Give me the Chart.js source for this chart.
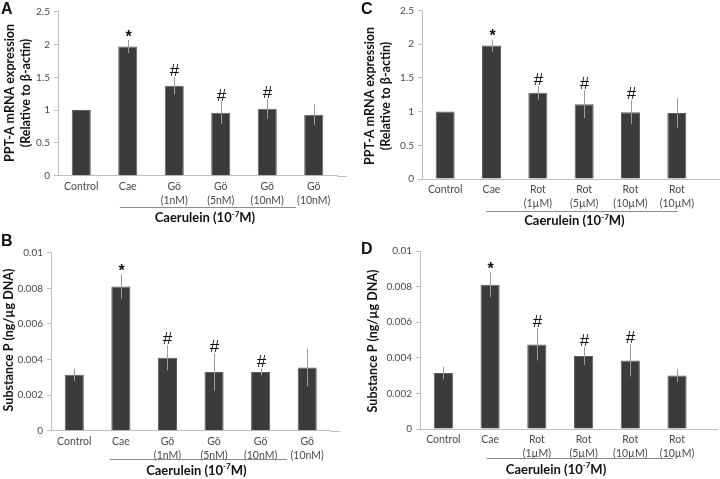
<!DOCTYPE html>
<html>
<head>
<meta charset="utf-8">
<script src="https://cdn.jsdelivr.net/npm/chart.js@4.4.1/dist/chart.umd.min.js"></script>
<style>
	body { margin: 0; background: #fff; width: 720px; height: 479px; overflow: hidden; position: relative; }
	canvas { position: absolute; }
	.letter { position: absolute; font: bold 16px 'Liberation Sans', Arial, sans-serif; color: #111; line-height: 1; }
</style>
</head>
<body>
<canvas id="chartA" width="360" height="240" style="left:0;top:0"></canvas>
<canvas id="chartC" width="360" height="240" style="left:360px;top:0"></canvas>
<canvas id="chartB" width="360" height="239" style="left:0;top:240px"></canvas>
<canvas id="chartD" width="360" height="239" style="left:360px;top:240px"></canvas>
<div class="letter" style="left:1px;top:1px">A</div>
<div class="letter" style="left:361px;top:1px">C</div>
<div class="letter" style="left:1px;top:233px">B</div>
<div class="letter" style="left:361px;top:241px">D</div>
<script>
	'use strict';

	// Category labels
	const labelsGo = ['Control', 'Cae', ['Gö', '(1nM)'], ['Gö', '(5nM)'], ['Gö', '(10nM)'], ['Gö', '(10nM)']];
	const labelsRot = ['Control', 'Cae', ['Rot', '(1µM)'], ['Rot', '(5µM)'], ['Rot', '(10µM)'], ['Rot', '(10µM)']];

	// PPT-A mRNA expression (relative to beta-actin)
	const mrnaGo = [1.0, 1.97, 1.37, 0.96, 1.02, 0.93];
	const mrnaGoErr = [0, 0.10, 0.13, 0.17, 0.15, 0.16];
	const mrnaRot = [1.0, 1.98, 1.28, 1.11, 0.99, 0.98];
	const mrnaRotErr = [0, 0.09, 0.10, 0.21, 0.18, 0.22];

	// Substance P (ng/ug DNA)
	const spGo = [0.00315, 0.0081, 0.0041, 0.0033, 0.0033, 0.00355];
	const spGoErr = [0.00035, 0.0007, 0.0007, 0.00105, 0.0002, 0.00105];
	const spRot = [0.00315, 0.0081, 0.00475, 0.0041, 0.00385, 0.0030];
	const spRotErr = [0.00035, 0.0007, 0.0009, 0.0005, 0.0009, 0.00037];

	// Significance markers
	const marks = ['', '*', '#', '#', '#', ''];

	// Y axis ticks
	const mrnaTicks = { max: 2.5, step: 0.5 };
	const spTicks = { max: 0.01, step: 0.002 };

	const mrnaTitle = ['PPT-A mRNA expression', '(Relative to β-actin)'];
	const spTitle = ['Substance P (ng/µg DNA)'];

	const AXIS = '#bfbfbf';
	const TEXT = '#4a4a4a';
	const FONT = 'Lato, "Open Sans", sans-serif';

	/**
	 * Error bars, markers, group underline and titles.
	 */
	const annotate = {
		id: 'annotate',
		afterDraw: function(chart, args, o) {
			const ctx = chart.ctx;
			const xs = chart.scales.x;
			const ys = chart.scales.y;
			const a = chart.chartArea;
			const vals = chart.data.datasets[0].data;

			ctx.save();

			// x axis runs on past the last category
			ctx.strokeStyle = AXIS;
			ctx.lineWidth = 1;
			ctx.beginPath();
			ctx.moveTo(a.right, Math.round(a.bottom) + 0.5);
			ctx.lineTo(a.right + o.axisExt, Math.round(a.bottom) + 0.5);
			ctx.stroke();

			vals.forEach(function(v, i) {
				const e = o.err[i];
				const px = Math.round(xs.getPixelForValue(i)) + 0.5;
				const top = ys.getPixelForValue(v + e);
				if (e) {
					ctx.strokeStyle = '#9c9c9c';
					ctx.beginPath();
					ctx.moveTo(px, ys.getPixelForValue(v - e));
					ctx.lineTo(px, top);
					ctx.stroke();
				}
				const m = o.marks[i];
				if (m) {
					ctx.fillStyle = '#111';
					ctx.textAlign = 'center';
					ctx.textBaseline = 'alphabetic';
					if (m === '*') {
						ctx.font = 'bold 16px "Liberation Sans", Arial, sans-serif';
						ctx.fillText(m, px, top + 2);
					} else {
						ctx.font = '17px "Liberation Sans", Arial, sans-serif';
						ctx.fillText(m, px, top - 1);
					}
				}
			});

			// Caerulein group line
			const x0 = xs.getPixelForValue(o.group[0]);
			const x1 = xs.getPixelForValue(o.group[1]);
			ctx.strokeStyle = '#8c8c8c';
			ctx.beginPath();
			ctx.moveTo(x0, o.groupY + 0.5);
			ctx.lineTo(x1, o.groupY + 0.5);
			ctx.stroke();

			// Caerulein (10^-7 M)
			ctx.fillStyle = '#111';
			ctx.textBaseline = 'middle';
			ctx.textAlign = 'left';
			const big = 'bold 13px ' + FONT;
			const small = 'bold 8px ' + FONT;
			ctx.font = big;
			const w1 = ctx.measureText('Caerulein (10').width;
			const w3 = ctx.measureText('M)').width;
			ctx.font = small;
			const w2 = ctx.measureText('-7').width;
			let tx = xs.getPixelForValue(o.textAt) - (w1 + w2 + w3) / 2;
			ctx.font = big;
			ctx.fillText('Caerulein (10', tx, o.textY);
			tx += w1;
			ctx.font = small;
			ctx.fillText('-7', tx, o.textY - 4);
			tx += w2;
			ctx.font = big;
			ctx.fillText('M)', tx, o.textY);

			// y axis title, rotated
			ctx.font = 'bold 12.5px ' + FONT;
			ctx.textAlign = 'center';
			o.title.forEach(function(line, i) {
				ctx.save();
				ctx.translate(o.titleX[i], o.titleY);
				ctx.rotate(-Math.PI / 2);
				ctx.fillText(line, 0, 0);
				ctx.restore();
			});

			ctx.restore();
		}
	};

	function fmt(v) {
		return String(Number(v.toFixed(4)));
	}

	function makeChart(id, p) {
		const canvas = document.getElementById(id);
		const h = canvas.height;
		return new Chart(canvas.getContext('2d'), {
			type: 'bar',
			data: {
				labels: p.labels,
				datasets: [{
					data: p.values,
					backgroundColor: '#3b3b3b',
					borderColor: '#5e5e5e',
					borderWidth: 1,
					barPercentage: 0.41,
					categoryPercentage: 1
				}]
			},
			plugins: [annotate],
			options: {
				responsive: false,
				animation: false,
				events: [],
				layout: {
					padding: { left: 0, top: p.area[1], right: 360 - p.area[2], bottom: 0 }
				},
				plugins: {
					legend: { display: false },
					tooltip: { enabled: false },
					annotate: {
						err: p.err,
						marks: marks,
						axisExt: p.axisExt,
						group: p.group,
						groupY: p.groupY,
						textAt: p.textAt,
						textY: p.textY,
						title: p.title,
						titleX: p.titleX,
						titleY: p.titleY
					}
				},
				scales: {
					x: {
						grid: { display: false, drawTicks: false },
						border: { color: AXIS },
						ticks: {
							color: TEXT,
							font: { family: FONT, size: 10.5, lineHeight: 1.3 },
							padding: 4,
							maxRotation: 0,
							autoSkip: false
						},
						afterFit: function(s) { s.height = h - p.area[3]; }
					},
					y: {
						min: 0,
						max: p.ticks.max,
						border: { color: AXIS },
						grid: { drawOnChartArea: false, tickLength: 4, color: AXIS },
						ticks: {
							stepSize: p.ticks.step,
							color: TEXT,
							font: { family: FONT, size: 10 },
							padding: 4,
							callback: fmt
						},
						afterFit: function(s) { s.width = p.area[0]; }
					}
				}
			}
		});
	}

	makeChart('chartA', {
		labels: labelsGo, values: mrnaGo, err: mrnaGoErr, ticks: mrnaTicks,
		area: [58, 11.7, 337, 175.7], axisExt: 10,
		group: [0.83, 4.62], groupY: 207, textAt: 2.66, textY: 218,
		title: mrnaTitle, titleX: [10, 26], titleY: 93
	});
	makeChart('chartC', {
		labels: labelsRot, values: mrnaRot, err: mrnaRotErr, ticks: mrnaTicks,
		area: [62, 10.5, 340, 179], axisExt: 20,
		group: [0.88, 5.02], groupY: 211, textAt: 2.79, textY: 221,
		title: mrnaTitle, titleX: [10, 26], titleY: 96
	});
	makeChart('chartB', {
		labels: labelsGo, values: spGo, err: spGoErr, ticks: spTicks,
		area: [51, 12.7, 330.5, 190.7], axisExt: 10,
		group: [0.76, 4.57], groupY: 219, textAt: 2.62, textY: 230.5,
		title: spTitle, titleX: [9], titleY: 100
	});
	makeChart('chartD', {
		labels: labelsRot, values: spRot, err: spRotErr, ticks: spTicks,
		area: [60, 11, 340.4, 189], axisExt: 18,
		group: [0.92, 4.91], groupY: 218, textAt: 2.41, textY: 229.5,
		title: spTitle, titleX: [13], titleY: 101
	});
</script>
</body>
</html>
